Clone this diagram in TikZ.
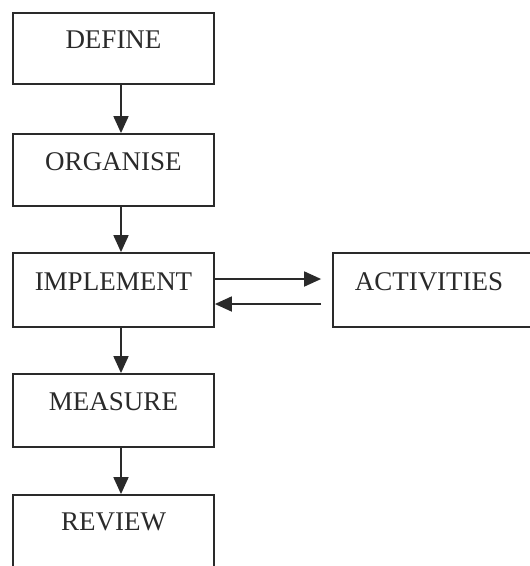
\documentclass[tikz,border=0pt]{standalone}
\usepackage{fontspec}
\setmainfont{Liberation Serif}
\usetikzlibrary{arrows.meta}
\definecolor{ink}{HTML}{2A2A2A}
\begin{document}
\begin{tikzpicture}[x=1pt,y=-1pt,
  box/.style={draw=ink, line width=1.8pt, minimum width=201pt, inner sep=0pt,
    text height=0pt, text depth=0pt, text=ink,
    font=\fontsize{27}{31}\selectfont},
  arr/.style={draw=ink, line width=1.8pt, -{Triangle[length=17pt,width=15pt]}}]
\clip (0,0) rectangle (530,566);
\useasboundingbox (0,0) rectangle (530,566);
\fill[white] (0,0) rectangle (530,566);
\node[box, minimum height=71pt] (def) at (113.5,48.5) {DEFINE};
\node[box, minimum height=72pt] (org) at (113.5,170) {ORGANISE};
\node[box, minimum height=74pt] (imp) at (113.5,290) {IMPLEMENT};
\node[box, minimum height=74pt, minimum width=204pt] (act) at (435,290) {\hspace*{-12pt}ACTIVITIES};
\node[box, minimum height=73pt] (mea) at (113.5,410.5) {MEASURE};
\node[box, minimum height=110pt] (rev) at (113.5,550) {\raisebox{20pt}[0pt][0pt]{REVIEW}};
\draw[arr] ([xshift=7.5pt]def.south) -- ([xshift=7.5pt]org.north);
\draw[arr] ([xshift=7.5pt]org.south) -- ([xshift=7.5pt]imp.north);
\draw[arr] ([xshift=7.5pt]imp.south) -- ([xshift=7.5pt]mea.north);
\draw[arr] ([xshift=7.5pt]mea.south) -- ([xshift=7.5pt]rev.north);
\draw[arr] ([yshift=11pt]imp.east) -- ([xshift=-11pt,yshift=11pt]act.west);
\draw[arr] ([xshift=-11pt,yshift=-14pt]act.west) -- ([yshift=-14pt]imp.east);
\end{tikzpicture}
\end{document}
